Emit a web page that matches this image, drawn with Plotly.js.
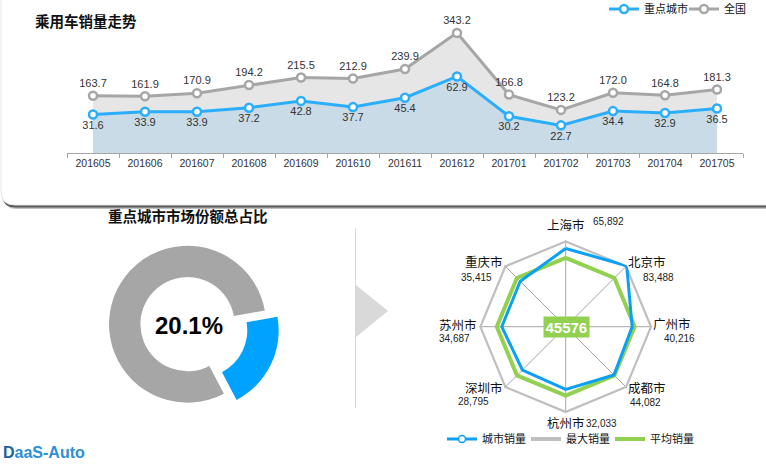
<!DOCTYPE html>
<html>
<head>
<meta charset="utf-8">
<script src="https://cdn.plot.ly/plotly-3.0.1.min.js"></script>
<style>
  html, body { margin: 0; padding: 0; background: #ffffff; }
  #chart { width: 766px; height: 471px; }
</style>
</head>
<body>
<div id="chart"></div>
<script>
// 乘用车销量走势 (万辆)
const months = ['201605', '201606', '201607', '201608', '201609', '201610', '201611',
                '201612', '201701', '201702', '201703', '201704', '201705'];
const national = [163.7, 161.9, 170.9, 194.2, 215.5, 212.9, 239.9, 343.2, 166.8, 123.2, 172.0, 164.8, 181.3];
const keyCities = [31.6, 33.9, 33.9, 37.2, 42.8, 37.7, 45.4, 62.9, 30.2, 22.7, 34.4, 32.9, 36.5];

// 重点城市市场份额总占比
const shareLabels = ['重点城市', '其他'];
const share = [20.1, 79.9];

// 城市销量雷达
const cities = ['上海市', '北京市', '广州市', '成都市', '杭州市', '深圳市', '苏州市', '重庆市'];
const citySales = [65892, 83488, 40216, 44082, 32033, 28795, 34687, 35415];
const maxSales = [83488, 83488, 83488, 83488, 83488, 83488, 83488, 83488];
const avgSales = [45576, 45576, 45576, 45576, 45576, 45576, 45576, 45576];

const W = 766, H = 471;
const fx = p => p / W;
const fy = p => 1 - p / H;
const CJK = '"Noto Sans CJK SC", "Liberation Sans", sans-serif';
const LAT = '"Liberation Sans", Arial, sans-serif';

// 圆角矩形 (像素 -> paper)
function roundRect(x0, y0, x1, y1, r) {
    return 'M' + fx(x0 + r) + ',' + fy(y0) +
        ' L' + fx(x1 - r) + ',' + fy(y0) +
        ' Q' + fx(x1) + ',' + fy(y0) + ' ' + fx(x1) + ',' + fy(y0 + r) +
        ' L' + fx(x1) + ',' + fy(y1 - r) +
        ' Q' + fx(x1) + ',' + fy(y1) + ' ' + fx(x1 - r) + ',' + fy(y1) +
        ' L' + fx(x0 + r) + ',' + fy(y1) +
        ' Q' + fx(x0) + ',' + fy(y1) + ' ' + fx(x0) + ',' + fy(y1 - r) +
        ' L' + fx(x0) + ',' + fy(y0 + r) +
        ' Q' + fx(x0) + ',' + fy(y0) + ' ' + fx(x0 + r) + ',' + fy(y0) + ' Z';
}

// 선 차트: 면적 + 꺽은선
const nationalArea = {
    x: months, y: national, type: 'scatter', mode: 'none',
    fill: 'tozeroy', fillcolor: '#e6e6e6',
    showlegend: false, hoverinfo: 'skip'
};
const cityArea = {
    x: months, y: keyCities, type: 'scatter', mode: 'none', yaxis: 'y2',
    fill: 'tozeroy', fillcolor: '#c9dbe7',
    showlegend: false, hoverinfo: 'skip'
};
const nationalLine = {
    x: months, y: national, type: 'scatter', mode: 'lines+markers+text',
    name: '全国',
    line: { color: '#a6a6a6', width: 3 },
    marker: { size: 8, color: '#ffffff', line: { color: '#a6a6a6', width: 2.5 } },
    texttemplate: '%{y:.1f}', textposition: 'top center',
    textfont: { family: LAT, size: 11, color: '#333333' },
    cliponaxis: false
};
const cityLine = {
    x: months, y: keyCities, type: 'scatter', mode: 'lines+markers+text', yaxis: 'y2',
    name: '重点城市',
    line: { color: '#2aaefc', width: 3 },
    marker: { size: 8, color: '#ffffff', line: { color: '#2aaefc', width: 2.5 } },
    texttemplate: '%{y:.1f}', textposition: 'bottom center',
    textfont: { family: LAT, size: 11, color: '#333333' },
    cliponaxis: false
};

// 도넛
const donut = {
    type: 'pie', labels: shareLabels, values: share,
    hole: 0.6, sort: false, direction: 'clockwise', rotation: 80,
    pull: [0.18, 0],
    marker: { colors: ['#00a2ff', '#a6a6a6'] },
    textinfo: 'none', showlegend: false,
    domain: { x: [fx(94.9), fx(280.1)], y: [fy(416.8), fy(231.6)] }
};

// 레이더
const loop = arr => arr.concat([arr[0]]);
const theta = loop(cities);
const radarMax = {
    type: 'scatterpolar', r: loop(maxSales), theta: theta, mode: 'lines',
    name: '最大销量', legend: 'legend2', legendrank: 2,
    line: { color: '#bfbfbf', width: 4 }, cliponaxis: false
};
const radarAvg = {
    type: 'scatterpolar', r: loop(avgSales), theta: theta, mode: 'lines',
    name: '平均销量', legend: 'legend2', legendrank: 3,
    line: { color: '#92d050', width: 4 }, cliponaxis: false
};
const radarCity = {
    type: 'scatterpolar', r: loop(citySales), theta: theta, mode: 'lines+markers',
    name: '城市销量', legend: 'legend2', legendrank: 1,
    line: { color: '#0aa0f5', width: 3 },
    marker: { size: 7, color: '#ffffff', line: { color: '#0aa0f5', width: 1.5 } },
    cliponaxis: false
};

// 도시 라벨 위치 (px)
const cityLabelPos = [[566, 224], [647, 261], [672, 323], [647, 387], [566, 422], [484, 387], [458, 324], [484, 261]];
const cityValuePos = [[608, 221], [658, 277], [679, 338], [645, 402], [601, 423], [473, 401], [454, 338], [477, 277]];

const annotations = [
    { text: '<b>乘用车销量走势</b>', x: fx(33), y: fy(20.5), xanchor: 'left', yanchor: 'middle',
      font: { family: CJK, size: 14.5, color: '#111111' } },
    { text: '<b>重点城市市场份额总占比</b>', x: fx(187.5), y: fy(215), xanchor: 'center', yanchor: 'middle',
      font: { family: CJK, size: 14.5, color: '#111111' } },
    { text: '<b>' + share[0].toFixed(1) + '%</b>', x: fx(189), y: fy(325), xanchor: 'center', yanchor: 'middle',
      font: { family: LAT, size: 24, color: '#000000' } },
    { text: '<b>' + avgSales[0] + '</b>', x: fx(566), y: fy(326.5), xanchor: 'center', yanchor: 'middle',
      font: { family: LAT, size: 15, color: '#ffffff' }, bgcolor: '#92d050', borderpad: 1.5 },
    { text: '<b><span style="color:#17629f">D</span>aaS-Auto</b>', x: fx(1), y: fy(452), xanchor: 'left', yanchor: 'middle',
      font: { family: LAT, size: 16, color: '#2e8fd3' } }
];
cities.forEach((c, i) => {
    annotations.push({ text: c, x: fx(cityLabelPos[i][0]), y: fy(cityLabelPos[i][1]),
        xanchor: 'center', yanchor: 'middle', font: { family: CJK, size: 12.5, color: '#111111' } });
    annotations.push({ text: citySales[i].toLocaleString('en-US'), x: fx(cityValuePos[i][0]), y: fy(cityValuePos[i][1]),
        xanchor: 'center', yanchor: 'middle', font: { family: LAT, size: 10, color: '#222222' } });
});
annotations.forEach(a => { a.xref = 'paper'; a.yref = 'paper'; a.showarrow = false; });

const shapes = [
    // 카드 그림자 + 카드
    { type: 'path', path: roundRect(3, -20, 790, 209, 14), fillcolor: 'rgba(0,0,0,0.25)', line: { width: 0 } },
    { type: 'path', path: roundRect(2, -20, 790, 207.5, 14), fillcolor: 'rgba(0,0,0,0.55)', line: { width: 0 } },
    { type: 'path', path: roundRect(1, -20, 790, 205, 14), fillcolor: '#ffffff', line: { color: '#e6e6e6', width: 1 } },
    // 구분선 + 화살표
    { type: 'line', x0: fx(355.5), x1: fx(355.5), y0: fy(228), y1: fy(408), line: { color: '#d9d9d9', width: 1 } },
    { type: 'path', path: 'M' + fx(356) + ',' + fy(285) + ' L' + fx(388) + ',' + fy(311) + ' L' + fx(356) + ',' + fy(337) + ' Z',
      fillcolor: '#d9d9d9', line: { width: 0 } }
];
shapes.forEach(s => { s.xref = 'paper'; s.yref = 'paper'; s.layer = 'below'; });

const layout = {
    width: W, height: H,
    margin: { l: 0, r: 0, t: 0, b: 0, autoexpand: false },
    paper_bgcolor: '#ffffff',
    plot_bgcolor: 'rgba(0,0,0,0)',
    font: { family: CJK, color: '#222222' },
    xaxis: {
        type: 'category', domain: [fx(67), fx(743)], range: [-0.5, 12.5],
        showline: true, linecolor: '#a6a6a6', linewidth: 1,
        ticks: 'outside', ticklen: 4, tickcolor: '#a6a6a6', tickson: 'boundaries',
        showgrid: false, zeroline: false,
        tickfont: { family: LAT, size: 10.5, color: '#333333' }
    },
    yaxis: { domain: [fy(153), fy(13)], range: [0, 400], visible: false, fixedrange: true },
    yaxis2: { overlaying: 'y', range: [0, 115], visible: false, fixedrange: true },
    polar: {
        domain: { x: [fx(479.2), fx(652.2)], y: [fy(413.2), fy(240.2)] },
        bgcolor: 'rgba(0,0,0,0)',
        gridshape: 'linear',
        angularaxis: {
            type: 'category', direction: 'clockwise', rotation: 90,
            showticklabels: false, ticks: '', showline: false,
            showgrid: true, gridcolor: '#a6a6a6', gridwidth: 1
        },
        radialaxis: {
            range: [-105000, 84000], showgrid: false, showline: false,
            showticklabels: false, ticks: ''
        }
    },
    legend: {
        orientation: 'h', x: fx(604), y: fy(9), xanchor: 'left', yanchor: 'middle',
        font: { family: CJK, size: 11, color: '#111111' },
        bgcolor: 'rgba(0,0,0,0)', itemwidth: 30, traceorder: 'reversed',
        entrywidth: 35
    },
    legend2: {
        orientation: 'h', x: fx(442), y: fy(439), xanchor: 'left', yanchor: 'middle',
        font: { family: CJK, size: 11, color: '#111111' },
        bgcolor: 'rgba(0,0,0,0)', itemwidth: 30, entrywidth: 39
    },
    annotations: annotations,
    shapes: shapes,
    showlegend: true
};

Plotly.newPlot('chart', [nationalArea, cityArea, nationalLine, cityLine, donut, radarMax, radarAvg, radarCity], layout,
    { displayModeBar: false, staticPlot: true });
</script>
</body>
</html>
